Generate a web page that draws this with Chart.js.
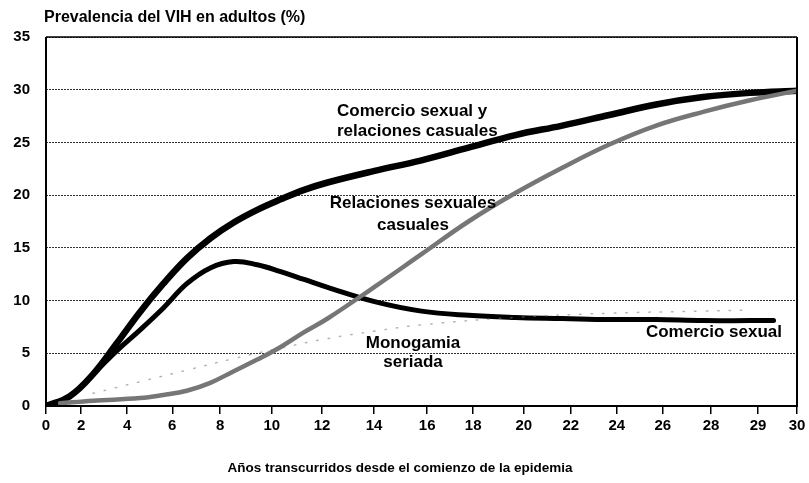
<!DOCTYPE html>
<html>
<head>
<meta charset="utf-8">
<script src="https://cdn.jsdelivr.net/npm/chart.js@4.4.0/dist/chart.umd.min.js"></script>
<style>
  html, body { margin: 0; padding: 0; background: #fff; }
  #wrap { width: 809px; height: 483px; }
</style>
</head>
<body>
<div id="wrap"><canvas id="myChart" width="809" height="483"></canvas></div>
<script>
// x axis: tick labels and where they sit on the (index) axis, the original spacing is a bit uneven
const xTickLabels = ['0','2','4','6','8','10','12','14','16','18','20','22','24','26','28','29','30'];
const xTickAt = [0,0.75,1.73,2.69,3.71,4.81,5.88,6.99,8.12,9.1,10.18,11.18,12.16,13.14,14.17,15.17,16];
const yMax = 35;

// Comercio sexual y relaciones casuales
const mixedX = [0,0.5,1,1.5,2,2.5,3,3.5,4,4.5,5,5.5,6,7,8,9,10,11,12,13,14,15,16];
const mixedY = [0,0.9,3.0,5.9,8.9,11.6,14.0,15.9,17.4,18.6,19.6,20.5,21.2,22.3,23.3,24.5,25.7,26.6,27.6,28.6,29.3,29.7,29.9];

// Comercio sexual
const sexWorkX = [0,0.5,1,1.5,2,2.5,3,3.5,4,4.5,5,5.5,6,7,8,9,10,11,12,13,14,15,15.5];
const sexWorkY = [0,0.9,3.0,5.2,7.2,9.3,11.6,13.1,13.7,13.4,12.75,12.0,11.25,9.9,9.0,8.6,8.4,8.3,8.2,8.2,8.1,8.1,8.1];

// Relaciones sexuales casuales
const casualX = [0.3,1,2,2.5,3,3.5,4,4.5,5,5.5,6,7,8,9,10,11,12,13,14,15,16];
const casualY = [0.25,0.5,0.75,1.05,1.45,2.2,3.3,4.4,5.6,7.0,8.3,11.3,14.4,17.5,20.2,22.6,24.8,26.6,27.9,29.0,29.9];

// Monogamia seriada (faint dotted)
const monoX = [1,2,3,4,5,6,7,8,10,12,14,15];
const monoY = [1.2,2.3,3.4,4.5,5.5,6.4,7.1,7.7,8.4,8.8,9.0,9.1];

function pts(xs, ys) {
	return xs.map((x, i) => ({x: x, y: ys[i]}));
}

const FONT = "'Liberation Sans', Arial, sans-serif";

// frame and texts drawn on top of the chart
const notes = {
	id: 'notes',
	afterDraw(chart) {
		const ctx = chart.ctx;
		const a = chart.chartArea;
		ctx.save();
		ctx.strokeStyle = '#000';
		ctx.lineWidth = 2;
		ctx.beginPath();
		ctx.moveTo(a.left, a.top);
		ctx.lineTo(a.left, a.bottom);
		ctx.lineTo(a.right, a.bottom);
		ctx.lineTo(a.right, a.top);
		ctx.stroke();
		ctx.lineWidth = 1.5;
		ctx.beginPath();
		ctx.moveTo(a.left, a.top);
		ctx.lineTo(a.right, a.top);
		ctx.stroke();

		ctx.fillStyle = '#000';
		ctx.textBaseline = 'middle';
		ctx.font = 'bold 16px ' + FONT;
		ctx.textAlign = 'left';
		ctx.fillText('Prevalencia del VIH en adultos (%)', 44, 18);
		ctx.font = 'bold 13.5px ' + FONT;
		ctx.textAlign = 'center';
		ctx.fillText('Años transcurridos desde el comienzo de la epidemia', 400, 468);

		ctx.font = 'bold 17px ' + FONT;
		ctx.textAlign = 'left';
		ctx.fillText('Comercio sexual y', 337, 111);
		ctx.fillText('relaciones casuales', 337, 131);
		ctx.textAlign = 'center';
		ctx.fillText('Relaciones sexuales', 413, 203);
		ctx.fillText('casuales', 413, 225);
		ctx.fillText('Monogamia', 413, 343);
		ctx.fillText('seriada', 413, 362);
		ctx.textAlign = 'right';
		ctx.fillText('Comercio sexual', 782, 332);
		ctx.restore();
	}
};

let myChart = new Chart(document.getElementById('myChart'), {
	type: 'line',
	data: {
		datasets: [
			{
				label: 'Monogamia seriada',
				data: pts(monoX, monoY),
				borderColor: 'rgba(120,120,120,0.55)',
				borderWidth: 1.5,
				borderDash: [1.5, 10],
				tension: 0.4
			},
			{
				label: 'Relaciones sexuales casuales',
				data: pts(casualX, casualY),
				borderColor: '#767676',
				borderWidth: 4.5,
				tension: 0.4
			},
			{
				label: 'Relaciones sexuales casuales (relleno)',
				data: pts(casualX, casualY),
				borderColor: '#e6e6e6',
				borderWidth: 1.8,
				borderDash: [2.5, 2],
				tension: 0.4
			},
			{
				label: 'Comercio sexual',
				data: pts(sexWorkX, sexWorkY),
				borderColor: '#000',
				borderWidth: 5,
				tension: 0.4
			},
			{
				label: 'Comercio sexual y relaciones casuales',
				data: pts(mixedX, mixedY),
				borderColor: '#000',
				borderWidth: 6.5,
				tension: 0.4
			}
		]
	},
	options: {
		responsive: false,
		animation: false,
		layout: { padding: { left: 0, right: 12, top: 37, bottom: 0 } },
		elements: { point: { radius: 0 }, line: { borderCapStyle: 'round' } },
		plugins: { legend: { display: false }, tooltip: { enabled: false }, title: { display: false } },
		scales: {
			x: {
				type: 'linear',
				min: 0,
				max: 16,
				afterFit: (s) => { s.height = 77; },
				afterBuildTicks: (s) => { s.ticks = xTickAt.map((v) => ({value: v})); },
				border: { display: false },
				grid: { drawOnChartArea: false, drawTicks: true, tickLength: 8, color: '#000', lineWidth: 1.5 },
				ticks: {
					autoSkip: false,
					maxRotation: 0,
					padding: 3,
					color: '#000',
					font: { family: FONT, size: 15, weight: 'bold' },
					callback: (v) => xTickLabels[xTickAt.indexOf(v)]
				}
			},
			y: {
				min: 0,
				max: yMax,
				afterFit: (s) => { s.width = 46; },
				border: { display: false, dash: [2, 1] },
				grid: { drawTicks: false, color: '#333', lineWidth: 1 },
				ticks: {
					stepSize: 5,
					padding: 16,
					color: '#000',
					font: { family: FONT, size: 15, weight: 'bold' }
				}
			}
		}
	},
	plugins: [notes]
});
</script>
</body>
</html>
